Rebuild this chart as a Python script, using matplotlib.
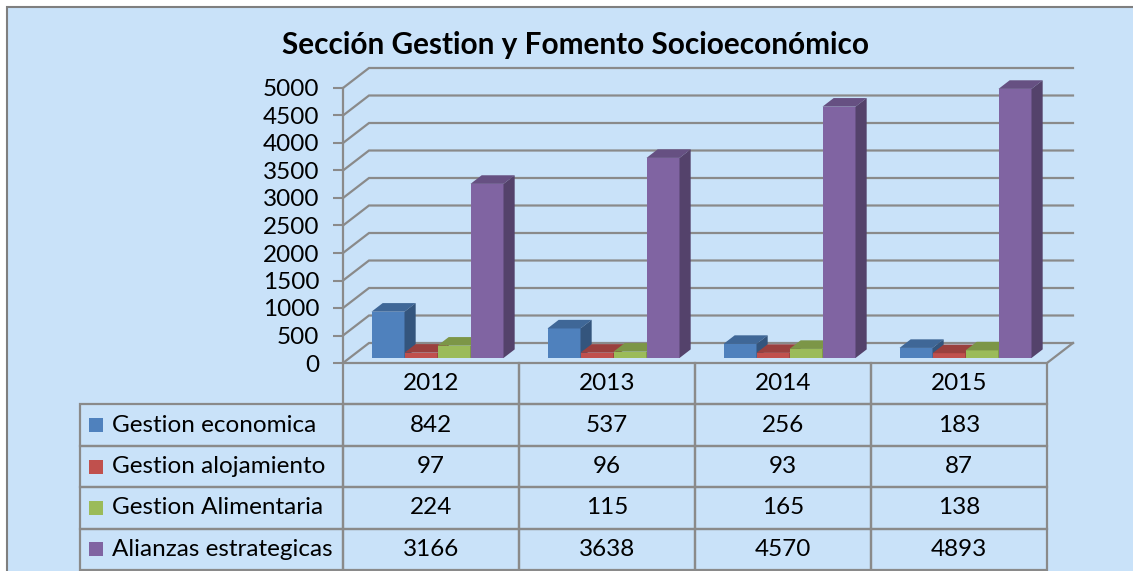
import matplotlib
matplotlib.use("Agg")
import matplotlib.pyplot as plt
from matplotlib.patches import Polygon, Rectangle
import numpy as np

plt.rcParams['font.family'] = ['Lato', 'DejaVu Sans']

# data
years = ['2012', '2013', '2014', '2015']
series_names = ['Gestion economica', 'Gestion alojamiento', 'Gestion Alimentaria', 'Alianzas estrategicas']
gestion_economica = [842, 537, 256, 183]
gestion_alojamiento = [97, 96, 93, 87]
gestion_alimentaria = [224, 115, 165, 138]
alianzas_estrategicas = [3166, 3638, 4570, 4893]
series_values = [gestion_economica, gestion_alojamiento, gestion_alimentaria, alianzas_estrategicas]
colors = ['#4F81BD', '#C0504D', '#9BBB59', '#8064A2']
yticks = list(range(0, 5001, 500))

W, H = 1133, 571
BG = '#C9E2F9'
GRID = '#8A8A8A'
FS = 17.5

fig = plt.figure(figsize=(W / 100, H / 100), dpi=100)
fig.patch.set_facecolor('white')
fig.patches.append(Rectangle((7 / W, -0.05), 1.1, 1.05 - 7 / H, transform=fig.transFigure,
                             facecolor=BG, edgecolor='#7F7F7F', lw=1.5, zorder=-5))

fig.text(575 / W, 1 - 45 / H, 'Sección Gestion y Fomento Socioeconómico',
         ha='center', va='center', fontsize=21.4, fontweight='bold')

ax = fig.add_axes([343 / W, 1 - 363 / H, 704 / W, 275 / H])
ax.set_facecolor('none')
ax.set_xlim(-0.5, 3.5)
ax.set_ylim(0, 5000)

# depth of the 3d box in data units
DX = 26 / 176
DY = 20 / (275 / 5000)

for v in yticks:
    ax.plot([-0.5, -0.5 + DX, 3.5 + DX], [v, v + DY, v + DY], color=GRID, lw=1.6,
            clip_on=False, zorder=1, solid_joinstyle='miter')
ax.plot([3.5, 3.5 + DX], [0, DY], color=GRID, lw=1.6, clip_on=False, zorder=1)


def darker(c, k):
    rgb = np.array(matplotlib.colors.to_rgb(c))
    return tuple(rgb * k)


# bars
bw = 0.1875
f = 0.25   # depth where the bar front sits
d = 0.43   # bar depth
bx, by = f * DX, f * DY
ddx, ddy = d * DX, d * DY
for j in range(len(years)):
    for i, vals in enumerate(series_values):
        x0 = j - 0.375 + i * bw + bx
        v = vals[j]
        top = by + v
        ax.bar(x0, v, width=bw, bottom=by, align='edge', color=colors[i],
               edgecolor='none', zorder=3, clip_on=False)
        ax.add_patch(Polygon([(x0, top), (x0 + bw, top), (x0 + bw + ddx, top + ddy),
                              (x0 + ddx, top + ddy)], closed=True,
                             facecolor=darker(colors[i], 0.8), edgecolor='none',
                             zorder=3, clip_on=False))
        ax.add_patch(Polygon([(x0 + bw, by), (x0 + bw, top), (x0 + bw + ddx, top + ddy),
                              (x0 + bw + ddx, by + ddy)], closed=True,
                             facecolor=darker(colors[i], 0.66), edgecolor='none',
                             zorder=3, clip_on=False))

for s in ['top', 'right', 'bottom']:
    ax.spines[s].set_visible(False)
ax.spines['left'].set_color(GRID)
ax.spines['left'].set_linewidth(1.6)
ax.set_xticks([])
ax.set_yticks(yticks)
ax.tick_params(axis='y', length=7, width=1.5, color=GRID, pad=10, labelsize=FS)

# data table
cell_text = [[''] + years]
for name, vals in zip(series_names, series_values):
    cell_text.append([name] + [str(v) for v in vals])
lab_w = 263 / 704
col_w = 176 / 704
tbl_h = 207 / 275
tbl = ax.table(cellText=cell_text, colWidths=[lab_w] + [col_w] * 4,
               bbox=[-lab_w, -tbl_h, 1 + lab_w, tbl_h])
tbl.auto_set_font_size(False)
tbl.set_fontsize(FS)
for (r, c), cell in tbl.get_celld().items():
    cell.set_facecolor('none')
    cell.set_edgecolor(GRID)
    cell.set_linewidth(1.6)
    cell.set_clip_on(False)
    if c == 0:
        if r == 0:
            cell.visible_edges = ''
        else:
            cell.get_text().set_ha('left')
            cell.PAD = 32 / 263
    else:
        cell.get_text().set_ha('center')

# legend keys in the table
for i in range(len(series_names)):
    yc = -tbl_h * (i + 1.5) / 5
    ax.add_patch(Rectangle((-lab_w + 9 / 704, yc - 7 / 275), 14 / 704, 14 / 275,
                           transform=ax.transAxes, facecolor=colors[i],
                           edgecolor='none', clip_on=False))

fig.savefig('out.png', dpi=100)
